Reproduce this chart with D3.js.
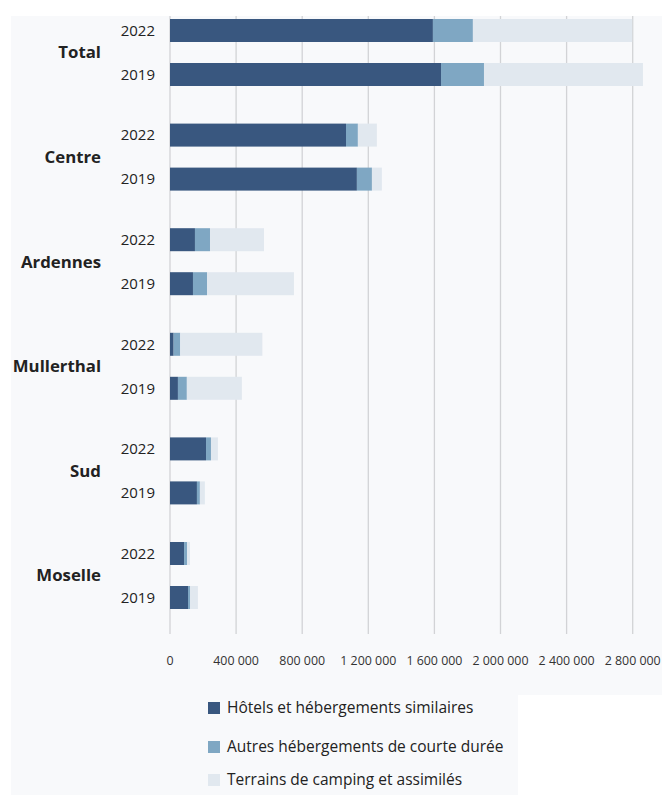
<!DOCTYPE html>
<html>
<head>
<meta charset="utf-8">
<script src="https://cdn.jsdelivr.net/npm/d3@7"></script>
<style>
  body { margin: 0; background: #fff; font-family: "Open Sans", "Noto Sans", sans-serif; }
</style>
</head>
<body>
<div id="chart"></div>
<script>
// regions, years and the three accommodation types (nights)
const regions = ['Total', 'Centre', 'Ardennes', 'Mullerthal', 'Sud', 'Moselle'];
const years = ['2022', '2019'];
const seriesNames = ['Hôtels et hébergements similaires', 'Autres hébergements de courte durée', 'Terrains de camping et assimilés'];
const colors = ['#39577f', '#7fa7c3', '#e1e8ef'];

const hotels = {
  '2022': [1591000, 1065000, 151000, 22000, 218000, 85000],
  '2019': [1640000, 1131000, 139000, 48000, 163000, 109000]
};
const autres = {
  '2022': [242000, 72000, 91000, 40000, 30000, 18000],
  '2019': [260000, 91000, 85000, 54000, 18000, 12000]
};
const camping = {
  '2022': [964000, 115000, 327000, 497000, 42000, 18000],
  '2019': [962000, 60000, 526000, 333000, 30000, 48000]
};
const xTicks = [0, 400000, 800000, 1200000, 1600000, 2000000, 2400000, 2800000];

const W = 662, H = 795;
const svg = d3.select('#chart').append('svg').attr('width', W).attr('height', H);

// background panel (with a notch at bottom right around the legend)
svg.append('path')
  .attr('d', 'M11,16 H662 V695 H518 V795 H11 Z')
  .attr('fill', '#f8f9fb');

const x = d3.scaleLinear().domain([0, 2800000]).range([170, 632.7]);
const yGroup = d3.scaleBand().domain(regions).range([19, 19 + 6 * 104.6]);
const yYear = d3.scaleBand().domain(years).range([0, 67]).paddingInner(0.4773);

// gridlines
svg.append('g').selectAll('line').data(xTicks).join('line')
  .attr('x1', d => x(d)).attr('x2', d => x(d))
  .attr('y1', 16).attr('y2', 634)
  .attr('stroke', '#d2d3d6').attr('stroke-width', 1.3);

// axis labels
svg.append('g').selectAll('text').data(xTicks).join('text')
  .attr('x', d => x(d)).attr('y', 665)
  .attr('text-anchor', 'middle')
  .attr('font-size', 12.4).attr('fill', '#333')
  .text(d => d3.format(',')(d).replace(/,/g, ' '));

// stacked rows
const rows = [];
regions.forEach((r, i) => {
  years.forEach(yr => {
    const vals = [hotels[yr][i], autres[yr][i], camping[yr][i]];
    let acc = 0;
    vals.forEach((v, k) => {
      rows.push({ region: r, year: yr, k: k, x0: acc, x1: acc + v });
      acc += v;
    });
  });
});

svg.append('g').selectAll('rect').data(rows).join('rect')
  .attr('x', d => x(d.x0))
  .attr('width', d => x(d.x1) - x(d.x0))
  .attr('y', d => yGroup(d.region) + yYear(d.year))
  .attr('height', yYear.bandwidth())
  .attr('fill', d => colors[d.k]);

// year labels
const yearLabels = [];
regions.forEach(r => years.forEach(yr => yearLabels.push({ region: r, year: yr })));
svg.append('g').selectAll('text').data(yearLabels).join('text')
  .attr('x', 155)
  .attr('y', d => yGroup(d.region) + yYear(d.year) + yYear.bandwidth() / 2)
  .attr('dy', '0.35em')
  .attr('text-anchor', 'end')
  .attr('font-size', 15).attr('fill', '#222')
  .text(d => d.year);

// region labels
svg.append('g').selectAll('text').data(regions).join('text')
  .attr('x', 101)
  .attr('y', d => yGroup(d) + 33.5)
  .attr('dy', '0.35em')
  .attr('text-anchor', 'end')
  .attr('font-size', 16.8).attr('font-weight', 'bold').attr('fill', '#222')
  .text(d => d);

// legend
const legendY = [708, 747, 780];
const legend = svg.append('g').selectAll('g').data(seriesNames).join('g')
  .attr('transform', (d, i) => `translate(208,${legendY[i]})`);
legend.append('rect')
  .attr('x', 0).attr('y', -6).attr('width', 12).attr('height', 12)
  .attr('fill', (d, i) => colors[i]);
legend.append('text')
  .attr('x', 19).attr('y', 0).attr('dy', '0.35em')
  .attr('font-size', 15.5).attr('fill', '#222')
  .text(d => d);
</script>
</body>
</html>
